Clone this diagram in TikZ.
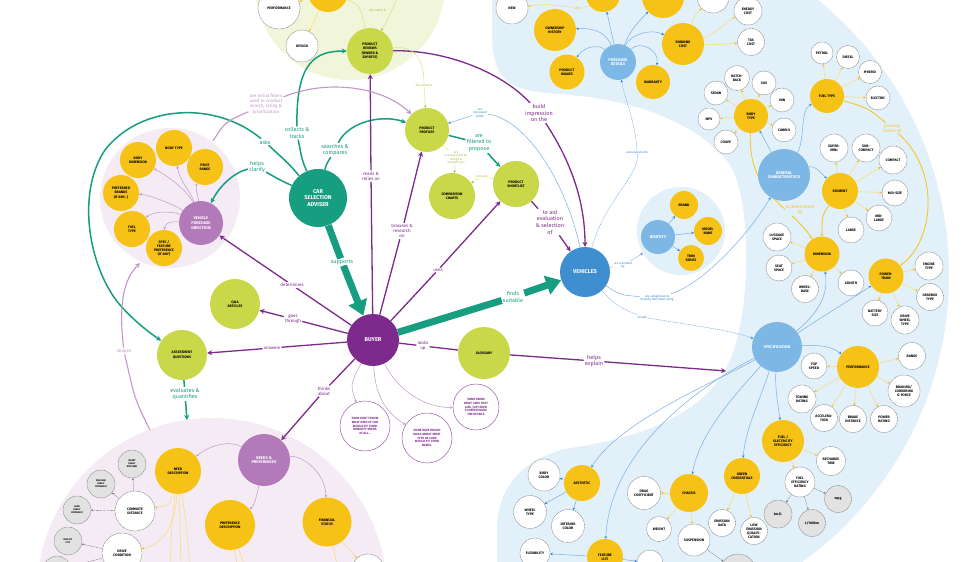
\documentclass[tikz,border=0pt]{standalone}
\usepackage{fontspec}
\setmainfont{Fira Sans}
\usetikzlibrary{arrows.meta}
\definecolor{tealc}{RGB}{23,157,127}
\definecolor{buyc}{RGB}{125,42,140}
\definecolor{limec}{RGB}{201,216,72}
\definecolor{yelc}{RGB}{246,194,22}
\definecolor{mauvec}{RGB}{178,122,185}
\definecolor{bgpur}{RGB}{244,235,245}
\definecolor{bggrn}{RGB}{241,245,217}
\definecolor{bgblu}{RGB}{226,240,250}
\definecolor{vbluec}{RGB}{62,142,208}
\definecolor{lbluec}{RGB}{125,183,230}
\definecolor{linkb}{RGB}{120,175,225}
\definecolor{arrb}{RGB}{50,130,205}
\definecolor{lpurc}{RGB}{196,150,202}
\definecolor{lyelc}{RGB}{248,222,130}
\definecolor{dgray}{RGB}{105,105,105}
\definecolor{gfill}{RGB}{226,226,226}
\definecolor{olivec}{RGB}{170,188,50}
\definecolor{llime}{RGB}{215,228,130}
\newcommand\fsNode{\fontsize{3.5}{4.1}\selectfont\bfseries}
\newcommand\fsMidN{\fontsize{4}{4.7}\selectfont\bfseries}
\newcommand\fsBigN{\fontsize{5.6}{6.6}\selectfont\bfseries}
\newcommand\fsTeal{\fontsize{5.5}{6.6}\selectfont}
\newcommand\fsPur{\fontsize{4.5}{5.3}\selectfont}
\newcommand\fsTiny{\fontsize{3}{3.5}\selectfont}
\newcommand\fsMicro{\fontsize{2.4}{2.8}\selectfont\bfseries}
\newcommand\fsBub{\fontsize{3.1}{3.8}\selectfont\bfseries}
\pgfdeclarelayer{bgl}
\pgfdeclarelayer{edg}
\pgfsetlayers{bgl,edg,main}
\tikzset{
 nd/.style={circle,inner sep=0pt,align=center,font=\fsNode},
 yn/.style={nd,fill=yelc},
 ln/.style={nd,fill=limec},
 wn/.style={nd,fill=white,draw=dgray,line width=0.35pt,dash pattern=on 0.7pt off 0.5pt},
 gn/.style={wn,fill=gfill,font=\fsMicro},
 gnb/.style={wn,fill=gfill},
 bn/.style={nd,fill=lbluec,text=white,font=\fsMidN},
 mn/.style={nd,fill=mauvec,text=white,font=\fsMidN},
 bub/.style={nd,fill=white,draw=buyc!75,line width=0.5pt,text=buyc,font=\fsBub},
 labT/.style={align=center,font=\fsTeal,text=tealc,fill=white,inner sep=1pt},
 labP/.style={align=center,font=\fsPur,text=buyc,fill=white,inner sep=1pt},
 labPB/.style={align=center,font=\fsTeal,text=buyc,fill=white,inner sep=1pt},
 labL/.style={align=center,font=\fsPur,text=lpurc,fill=white,inner sep=1pt},
 labB/.style={align=center,font=\fsTiny,text=arrb,fill=white,inner sep=0.8pt},
 labY/.style={align=center,font=\fsPur,text=yelc,fill=bgblu,inner sep=0.8pt},
 labG/.style={align=center,font=\fsTiny,text=olivec,fill=white,inner sep=0.8pt},
 tl/.style={draw=tealc,line width=1.5pt},
 thk/.style={draw=tealc,line width=7pt},
 pl/.style={draw=buyc,line width=1.3pt},
 lp/.style={draw=lpurc,line width=0.5pt},
 lpw/.style={draw=lpurc,line width=1.1pt},
 bl/.style={draw=linkb,line width=0.5pt},
 bld/.style={bl,dash pattern=on 1.2pt off 0.8pt},
 yl/.style={draw=lyelc,line width=0.6pt},
 yl2/.style={draw=yelc,line width=0.8pt},
 ylg/.style={draw=llime,line width=0.5pt},
 gl/.style={draw=dgray,line width=0.35pt,dash pattern=on 0.8pt off 0.6pt},
 tipT/.style={-{Stealth[length=5pt,width=5pt]}},
 tipBig/.style={-{Triangle[length=15pt,width=19pt]}},
 tipS/.style={-{Stealth[length=2.6pt,width=2.6pt]}},
 tipB/.style={-{Stealth[length=2.6pt,width=2.6pt,color=arrb]}},
 tipY/.style={-{Stealth[length=2.6pt,width=2.6pt,color=yelc]}},
 tipG/.style={-{Stealth[length=2pt,width=2pt,color=dgray]}},
 tipLG/.style={-{Stealth[length=2.6pt,width=2.6pt,color=olivec]}},
}
\begin{document}
\begin{tikzpicture}[x=1pt,y=-1pt]
\useasboundingbox (0,0) rectangle (980,562);
% ---------------- backgrounds
\begin{pgfonlayer}{bgl}
\begin{scope}
\clip (0,0) rectangle (980,562);
\fill[white] (0,0) rectangle (980,562);
\fill[bgblu] (595,275) circle[radius=354];
\fill[white] (492,-20) -- (492,30) .. controls (492,80) and (505,91) .. (560,94)
  .. controls (640,100) and (700,125) .. (730,165)
  .. controls (752,200) and (753,320) .. (725,370)
  .. controls (700,415) and (640,438) .. (570,448)
  .. controls (520,458) and (497,490) .. (497,530) -- (497,600) -- (-20,600) -- (-20,-20) -- cycle;
\fill[bggrn] (350,-15) circle[radius=95];
\fill[bgpur] (170,198) circle[radius=70];
\fill[bgpur] (212,593) circle[radius=175];
\node[circle,fill=bgblu,minimum size=88,inner sep=0pt] (idbg) at (681,231) {};
\end{scope}
\end{pgfonlayer}
% ---------------- main nodes
\node[nd,fill=tealc,text=white,font=\fsBigN,minimum size=58] (adv) at (318,198) {CAR\\SELECTION\\ADVISER};
\node[nd,fill=buyc,text=white,font=\fsBigN,minimum size=52] (buy) at (373,340) {BUYER};
\node[nd,fill=vbluec,text=white,font=\fsBigN,minimum size=50] (veh) at (585,272) {VEHICLES};
\node[ln,minimum size=46] (rev) at (370,51) {PRODUCT\\REVIEWS\\(OWNER \&\\EXPERTS)};
\node[ln,minimum size=44] (prof) at (427,130) {PRODUCT\\PROFILES};
\node[ln,minimum size=46] (cmp) at (452,196) {COMPARISON\\CHARTS};
\node[ln,minimum size=46] (sl) at (516,184) {PRODUCT\\SHORTLIST};
\node[ln,minimum size=50] (qa) at (235,304) {Q\&A\\ARTICLES};
\node[ln,minimum size=50] (aq) at (182,355) {ASSESSMENT\\QUESTIONS};
\node[ln,minimum size=52] (glo) at (484,353) {GLOSSARY};
% top green
\node[yn,minimum size=40] (ytop) at (328,-8) {};
\node[wn,minimum size=42] (perfa) at (279,8) {PERFORMANCE};
\node[wn,minimum size=32] (des) at (302,46) {DESIGN};
% left purple cluster
\node[yn,minimum size=36] (lbt) at (174,148) {BODY TYPE};
\node[yn,minimum size=36] (lbd) at (138,160) {BODY\\DIMENSION};
\node[yn,minimum size=36] (lpr) at (205,167) {PRICE\\RANGE};
\node[yn,minimum size=36] (lpb) at (121,193) {PREFERRED\\BRANDS\\(IF ANY...)};
\node[yn,minimum size=36] (lft) at (132,229) {FUEL\\TYPE};
\node[yn,minimum size=36] (lsp) at (164,248) {SPEC /\\FEATURE\\PREFERENCE\\(IF ANY)};
\node[mn,minimum size=44] (vpd) at (201,223) {VEHICLE\\PURCHASE\\DIRECTION};
% bubbles
\node[bub,minimum size=50] (ba) at (365,426) {SOME DON'T KNOW\\WHAT KIND OF CAR\\WOULD FIT THEIR\\MOBILITY NEEDS\\AT ALL...};
\node[bub,minimum size=50] (bb) at (427,438) {SOME HAVE ROUGH\\IDEAS ABOUT WHAT\\TYPE OF CARS\\WOULD FIT THEIR\\NEEDS.};
\node[bub,minimum size=46] (bc) at (476,407) {SOME KNOW\\WHAT CARS THEY\\LIKE, JUST NEED\\TO INVESTIGATE\\THE DETAILS};
% bottom-left cluster
\node[mn,minimum size=52] (np) at (264,460) {NEEDS \&\\PREFERENCES};
\node[yn,minimum size=46] (ndn) at (178,471) {NEED\\DESCRIPTION};
\node[yn,minimum size=50] (pdn) at (230,525) {PREFERENCE\\DESCRIPTION};
\node[yn,minimum size=49] (fsn) at (327,522) {FINANCIAL\\STATUS};
\node[wn,minimum size=40] (cdn) at (135,511) {COMMUTE\\DISTANCE};
\node[wn,minimum size=40] (dcn) at (122,553) {DRIVE\\CONDITION};
\node[gn,minimum size=28] (ga) at (132,464) {SHORT\\(DAILY\\ROUTINE)};
\node[gn,minimum size=28] (gb) at (101,484) {REGULAR\\(DAILY\\DISTANCE)};
\node[gn,minimum size=28] (gc) at (77,510) {LONG\\(DAILY\\DISTANCE)};
\node[gn,minimum size=28] (gd) at (68,541) {MOSTLY\\CITY};
\node[gn,minimum size=28] (ge) at (57,570) {};
\node[wn,minimum size=32] (fsw) at (368,570) {};
% purchase details cluster
\node[bn,minimum size=36] (pdt) at (618,62) {PURCHASE\\DETAILS};
\node[yn,minimum size=42] (own) at (555,30) {OWNERSHIP\\HISTORY};
\node[yn,minimum size=35] (img) at (567,72) {PRODUCT\\IMAGES};
\node[yn,minimum size=34] (war) at (653,82) {WARRANTY};
\node[yn,minimum size=42] (run) at (683,44) {RUNNING\\COST};
\node[yn,minimum size=34] (ytb) at (603,-5) {};
\node[yn,minimum size=42] (cond) at (663,-3) {\raisebox{-8pt}{CONDITIONS}};
\node[wn,minimum size=32] (new) at (512,8) {NEW};
\node[wn,minimum size=32] (cst) at (713,-3) {\raisebox{-8pt}{COST}};
\node[wn,minimum size=28] (ecn) at (748,11) {ENERGY\\COST};
\node[wn,minimum size=27] (tcn) at (751,42) {TAX\\COST};
% body type
\node[yn,minimum size=34] (bt) at (751,116) {BODY\\TYPE};
\node[wn,minimum size=25] (hb) at (737,78) {HATCH-\\BACK};
\node[wn,minimum size=24] (suv) at (764,83) {SUV};
\node[wn,minimum size=24] (van) at (782,100) {VAN};
\node[wn,minimum size=24] (cab) at (784,130) {CABRIO};
\node[wn,minimum size=24] (sed) at (716,93) {SEDAN};
\node[wn,minimum size=22] (mpv) at (709,119) {MPV};
\node[wn,minimum size=24] (cou) at (726,142) {COUPE};
% fuel type
\node[yn,minimum size=34] (ft) at (827,96) {FUEL TYPE};
\node[wn,minimum size=22] (pet) at (822,53) {PETROL};
\node[wn,minimum size=23] (die) at (848,57) {DIESEL};
\node[wn,minimum size=23] (hyb) at (870,72) {HYBRID};
\node[wn,minimum size=24] (ele) at (878,98) {ELECTRIC};
% general characteristics
\node[bn,minimum size=52] (gch) at (784,175) {GENERAL\\CHARACTERISTICS};
\node[yn,minimum size=36] (seg) at (840,191) {SEGMENT};
\node[wn,minimum size=28] (smi) at (834,148) {SUPER-\\MINI};
\node[wn,minimum size=28] (sco) at (866,148) {SUB-\\COMPACT};
\node[wn,minimum size=28] (cpt) at (893,160) {COMPACT};
\node[wn,minimum size=26] (mids) at (895,193) {MID-SIZE};
\node[wn,minimum size=26] (midl) at (879,218) {MID-\\LARGE};
\node[wn,minimum size=26] (lrg) at (851,230) {LARGE};
\node[yn,minimum size=35] (dim) at (822,254) {DIMENSION};
\node[wn,minimum size=28] (lug) at (777,237) {LUGGAGE\\SPACE};
\node[wn,minimum size=26] (sea) at (779,268) {SEAT\\SPACE};
\node[wn,minimum size=27] (wbs) at (805,289) {WHEEL-\\BASE};
\node[wn,minimum size=26] (len) at (851,283) {LENGTH};
\node[yn,minimum size=35] (ptr) at (886,276) {POWER-\\TRAIN};
\node[wn,minimum size=28] (eng) at (929,266) {ENGINE\\TYPE};
\node[wn,minimum size=27] (gear) at (930,297) {GEARBOX\\TYPE};
\node[wn,minimum size=26] (bat) at (875,313) {BATTERY\\SIZE};
\node[wn,minimum size=28] (dwt) at (905,320) {DRIVE\\WHEEL\\TYPE};
% specification
\node[bn,minimum size=50] (spec) at (777,347) {SPECIFICATION};
\node[yn,minimum size=42] (perf) at (858,367) {PERFORMANCE};
\node[wn,minimum size=26] (tsp) at (814,366) {TOP\\SPEED};
\node[wn,minimum size=27] (rng) at (912,356) {RANGE};
\node[wn,minimum size=32] (brk) at (904,391) {BRAKING/\\CORNERING\\G-FORCE};
\node[wn,minimum size=28] (tow) at (802,399) {TOWING\\RATING};
\node[wn,minimum size=27] (acc) at (824,418) {ACCELERA-\\TION};
\node[wn,minimum size=27] (bdi) at (853,419) {BRAKE\\DISTANCE};
\node[wn,minimum size=27] (prt) at (884,419) {POWER\\RATING};
\node[yn,minimum size=42] (fee) at (783,441) {FUEL /\\ELECTRICITY\\EFFICIENCY};
\node[wn,minimum size=29] (rct) at (831,461) {RECHARGE\\TIME};
\node[wn,minimum size=30] (fer) at (800,482) {FUEL\\EFFICIENCY\\RATING};
\node[gnb,minimum size=27] (mpg) at (838,499) {mpg};
\node[gnb,minimum size=28] (kml) at (778,514) {km/L};
\node[gnb,minimum size=27] (lhk) at (812,523) {L/100km};
\node[yn,minimum size=36] (gcr) at (742,476) {GREEN\\CREDENTIALS};
\node[wn,minimum size=27] (leq) at (754,531) {LOW\\EMISSION\\QUALIFI-\\CATION};
\node[wn,minimum size=27] (emd) at (722,523) {EMISSION\\DATA};
\node[gnb,minimum size=36] (gbx) at (738,572) {};
\node[yn,minimum size=38] (chs) at (689,493) {CHASSIS};
\node[wn,minimum size=33] (drg) at (644,493) {DRAG\\COEFFICIENT};
\node[wn,minimum size=25] (wgt) at (659,529) {WEIGHT};
\node[wn,minimum size=32] (sus) at (694,540) {SUSPENSION};
\node[yn,minimum size=36] (aes) at (582,483) {AESTHETIC};
\node[wn,minimum size=32] (bcol) at (544,475) {BODY\\COLOR};
\node[wn,minimum size=33] (wty) at (530,512) {WHEEL\\TYPE};
\node[wn,minimum size=33] (icol) at (568,526) {INTERIOR\\COLOR};
\node[wn,minimum size=30] (flex) at (535,553) {FLEXIBILITY};
\node[yn,minimum size=36] (fli) at (605,557) {FEATURE\\LIST};
\node[wn,minimum size=26] (saf) at (650,563) {};
% identity
\node[bn,minimum size=34] (idn) at (658,237) {IDENTITY};
\node[yn,minimum size=28] (brd) at (684,205) {BRAND};
\node[yn,minimum size=28] (mdl) at (708,231) {MODEL\\NAME};
\node[yn,minimum size=26] (trm) at (691,258) {TRIM\\SERIES};
% ---------------- labels
\node[labT] (lAsks) at (265,142) {asks};
\node[labT] (lClar) at (257,167) {helps\\clarify};
\node[labT] (lColl) at (297,133) {collects \&\\tracks};
\node[labT] (lSrch) at (335,150) {searches \&\\compares};
\node[labT] (lSup) at (342,262) {supports};
\node[labT] (lFind) at (513,297) {finds\\suitable};
\node[labT] (lFilt) at (479,143) {are\\filtered to\\propose};
\node[labT] (lEval) at (185,394) {evaluates \&\\quantifies};
\node[labP] (lRead) at (371,176) {reads \&\\relies on};
\node[labP] (lBrow) at (402,231) {browses \&\\research\\on};
\node[labP] (lUses) at (438,270) {uses};
\node[labP] (lDet) at (292,285) {determines};
\node[labP] (lGoes) at (293,319) {goes\\through};
\node[labP] (lAns) at (272,348) {answers};
\node[labP] (lLook) at (423,346) {looks\\up};
\node[labP] (lThnk) at (324,391) {thinks\\about};
\node[labPB] (lBuild) at (539,113) {build\\impression\\on the};
\node[labPB] (lAid) at (550,222) {to aid\\evaluation\\\& selection\\of};
\node[labPB] (lExp) at (594,361) {helps\\explain};
\node[labL] (lFilters) at (266,104) {are initial filters\\used to conduct\\search, rating \&\\prioritization};
\node[labL] (lShp) at (124,351) {shapes};
\node[labB] (lAssoc) at (637,152) {associated with};
\node[labB] (lClass) at (623,265) {are classified\\by};
\node[labB] (lCat) at (657,298) {are categorised \&\\broadly described using};
\node[labB] (lInc) at (642,317) {include};
\node[labB] (lDisc) at (480,113) {are\\discussed\\within};
\node[labY] (lDetb) at (800,210) {is determined\\by};
\node[labY] (lPrim) at (892,128) {primary\\choice of};
\node[labY,font=\fsTiny] (lOff) at (578,8) {offers};
\node[labG,fill=bggrn] (lDisca) at (378,10) {discussed in};
\node[labG] (lDiscb) at (424,85) {discussed in};
\node[labG] (lAcc) at (456,158) {are\\accompanied by\\ratings \&\\comparisons};
\node[labG] (lIncl) at (482,176) {includes};
\coordinate (ndTop) at (187,420);
\coordinate (expEnd) at (726,371);
\coordinate (filtStart) at (213,141);
\coordinate (shpStart) at (150,430);
\coordinate (shpEnd) at (140,263);
\coordinate (topR) at (398,-5);
% ---------------- edges
\begin{pgfonlayer}{edg}
% teal
\draw[tl] (adv) .. controls (302,160) .. (lColl);
\draw[tl,tipT] (lColl) .. controls (296,62) and (315,51) .. (rev);
\draw[tl] (adv) .. controls (326,165) .. (lSrch);
\draw[tl,tipT] (lSrch) .. controls (348,122) and (382,114) .. (prof);
\draw[tl] (adv) .. controls (290,165) .. (lAsks);
\draw[tl,tipT] (lAsks) .. controls (215,100) and (140,105) .. (105,150)
   .. controls (75,195) and (90,270) .. (120,305) .. controls (135,322) and (150,333) .. (aq);
\draw[tl] (adv) .. controls (280,180) .. (lClar);
\draw[tl,tipT] (lClar) .. controls (235,172) and (220,185) .. (vpd);
\draw[thk] (adv) -- (lSup);
\draw[thk,tipBig] (lSup) -- (buy);
\draw[thk] (buy) -- (lFind);
\draw[thk,tipBig] (lFind) -- (veh);
\draw[tl] (prof) -- (lFilt);
\draw[tl,tipT] (lFilt) .. controls (492,158) .. (sl);
\draw[tl] (aq) -- (lEval);
\draw[tl,tipT] (lEval) -- (ndTop);
% purple
\draw[pl] (buy) -- (lRead);  \draw[pl,tipT] (lRead) -- (rev);
\draw[pl] (buy) -- (lBrow);  \draw[pl,tipT] (lBrow) -- (prof);
\draw[pl] (buy) -- (lUses);  \draw[pl,tipT] (lUses) -- (sl);
\draw[pl] (buy) -- (lDet);   \draw[pl,tipT] (lDet) -- (vpd);
\draw[pl] (buy) -- (lGoes);  \draw[pl,tipT] (lGoes) -- (qa);
\draw[pl] (buy) -- (lAns);   \draw[pl,tipT] (lAns) -- (aq);
\draw[pl] (buy) -- (lLook);  \draw[pl] (lLook) -- (glo);
\draw[pl] (buy) -- (lThnk);  \draw[pl,tipT] (lThnk) -- (np);
\draw[pl] (glo) -- (lExp);   \draw[pl,tipT] (lExp) -- (expEnd);
\draw[pl] (rev) .. controls (450,50) and (505,75) .. (lBuild);
\draw[pl,tipT] (lBuild) .. controls (570,160) and (585,200) .. (veh);
\draw[pl] (sl) -- (lAid);    \draw[pl,tipT] (lAid) -- (veh);
% light purple
\draw[lp,tipS] (buy) .. controls (350,385) .. (ba);
\draw[lp,tipS] (buy) .. controls (375,400) and (390,415) .. (bb);
\draw[lp,tipS] (buy) .. controls (400,395) and (430,408) .. (bc);
\draw[lp,tipS] (vpd) .. controls (190,195) and (175,180) .. (lbd);
\draw[lp,tipS] (vpd) .. controls (190,190) and (180,182) .. (lbt);
\draw[lp,tipS] (vpd) .. controls (198,195) and (195,188) .. (lpr);
\draw[lp,tipS] (vpd) .. controls (175,205) and (150,195) .. (lpb);
\draw[lp,tipS] (vpd) .. controls (175,212) and (155,210) .. (lft);
\draw[lp,tipS] (vpd) .. controls (178,222) and (165,220) .. (lsp);
\draw[lpw] (filtStart) .. controls (225,122) .. (lFilters);
\draw[lpw,tipT] (lFilters) .. controls (330,78) and (385,88) .. (prof);
\draw[lpw] (shpStart) .. controls (135,400) .. (lShp);
\draw[lpw,tipT] (lShp) .. controls (118,300) and (125,278) .. (shpEnd);
\draw[lp,tipS] (np) .. controls (230,440) and (210,445) .. (ndn);
\draw[lp,tipS] (np) .. controls (258,490) and (255,505) .. (pdn);
\draw[lp,tipS] (np) .. controls (300,455) and (325,470) .. (fsn);
% bottom-left yellow / gray
\draw[yl,tipY] (ndn) .. controls (170,505) .. (cdn);
\draw[yl,tipY] (ndn) .. controls (175,530) and (160,545) .. (dcn);
\draw[yl] (ndn) .. controls (172,520) .. (170,570);
\draw[yl] (ndn) .. controls (180,520) .. (181,570);
\draw[yl] (ndn) .. controls (186,520) .. (190,570);
\draw[yl] (pdn) -- (238,570);
\draw[yl] (pdn) -- (246,570);
\draw[yl,tipY] (fsn) .. controls (345,545) .. (fsw);
\draw[yl] (fsn) .. controls (335,555) .. (338,570);
\draw[gl,tipG] (cdn) -- (ga);
\draw[gl,tipG] (cdn) -- (gb);
\draw[gl,tipG] (cdn) -- (gc);
\draw[gl,tipG] (dcn) -- (gd);
\draw[gl,tipG] (dcn) -- (ge);
% top green region
\draw[yl,tipY] (ytop) -- (perfa);
\draw[yl,tipY] (ytop) -- (des);
\draw[ylg] (ytop) .. controls (360,5) .. (rev);
\draw[ylg,tipLG] (topR) .. controls (390,15) .. (rev);
\draw[ylg] (rev) .. controls (415,45) and (424,60) .. (lDiscb);
\draw[ylg,tipLG] (lDiscb) -- (prof);
\draw[ylg] (prof) -- (lAcc);
\draw[ylg,tipLG] (lAcc) -- (cmp);
\draw[ylg] (sl) -- (lIncl);
\draw[ylg,tipLG] (lIncl) -- (cmp);
% blue links from vehicles
\draw[bl] (veh) .. controls (568,190) and (530,120) .. (lDisc);
\draw[bl,tipB] (lDisc) -- (prof);
\draw[bld] (veh) .. controls (605,200) and (640,175) .. (lAssoc);
\draw[bld,tipB] (lAssoc) .. controls (635,120) and (625,100) .. (pdt);
\draw[bld] (veh) -- (lClass);
\draw[bld,tipB] (lClass) -- (idbg);
\draw[bl] (veh) .. controls (620,295) .. (lCat);
\draw[bl,tipB] (lCat) .. controls (700,285) and (745,240) .. (gch);
\draw[bld] (veh) .. controls (615,305) .. (lInc);
\draw[bld,tipB] (lInc) .. controls (690,325) and (730,330) .. (spec);
% identity
\draw[bl,tipB] (idn) -- (brd);
\draw[bl,tipB] (idn) -- (mdl);
\draw[bl,tipB] (idn) -- (trm);
% purchase details
\draw[bl,tipB] (pdt) .. controls (605,30) and (590,28) .. (own);
\draw[bl,tipB] (pdt) .. controls (600,45) and (585,45) .. (img);
\draw[bl,tipB] (pdt) .. controls (640,40) and (660,50) .. (war);
\draw[bl,tipB] (pdt) .. controls (630,35) and (650,28) .. (run);
\draw[bl,tipB] (pdt) .. controls (612,35) .. (ytb);
\draw[bl,tipB] (pdt) .. controls (630,30) and (640,20) .. (cond);
\draw[yl] (ytb) .. controls (592,6) .. (lOff);
\draw[yl,tipY] (lOff) .. controls (545,4) .. (new);
\draw[yl,tipY] (run) .. controls (715,35) and (725,22) .. (ecn);
\draw[yl,tipY] (run) .. controls (715,45) .. (tcn);
\draw[yl,tipY] (run) .. controls (695,15) .. (cst);
% general characteristics
\draw[bl,tipB] (gch) .. controls (770,150) and (765,140) .. (bt);
\draw[bl,tipB] (gch) .. controls (805,140) and (800,110) .. (ft);
\draw[bl,tipB] (gch) .. controls (815,165) and (820,172) .. (seg);
\foreach \c in {hb,suv,van,cab,sed,mpv,cou} \draw[yl,tipY] (bt) -- (\c);
\foreach \c in {pet,die,hyb,ele} \draw[yl,tipY] (ft) -- (\c);
\foreach \c in {smi,sco,cpt,mids,midl,lrg} \draw[yl,tipY] (seg) -- (\c);
\foreach \c in {lug,sea,wbs,len} \draw[yl,tipY] (dim) -- (\c);
\foreach \c in {eng,gear,bat,dwt} \draw[yl,tipY] (ptr) -- (\c);
\draw[yl2,tipY] (bt) .. controls (748,195) and (790,205) .. (dim);
\draw[yl2,tipY] (seg) .. controls (822,215) .. (dim);
\draw[yl2] (ft) .. controls (868,108) .. (lPrim);
\draw[yl2,tipY] (lPrim) .. controls (940,170) and (935,240) .. (ptr);
% specification
\draw[bl,tipB] (spec) .. controls (810,320) and (830,300) .. (dim);
\draw[bl,tipB] (spec) .. controls (820,318) and (850,300) .. (ptr);
\draw[bl,tipB] (spec) .. controls (815,345) and (830,345) .. (perf);
\draw[bl,tipB] (spec) .. controls (775,390) and (778,405) .. (fee);
\draw[bl,tipB] (spec) .. controls (760,400) and (745,430) .. (gcr);
\draw[bl,tipB] (spec) .. controls (740,390) and (700,430) .. (chs);
\draw[bl,tipB] (spec) .. controls (720,380) and (620,420) .. (aes);
\draw[bl,tipB] (spec) .. controls (720,375) and (610,440) .. (fli);
\foreach \c in {tsp,rng,brk,tow,acc,bdi,prt} \draw[yl,tipY] (perf) -- (\c);
\draw[yl,tipY] (fee) -- (rct);
\draw[yl,tipY] (fee) -- (fer);
\foreach \c in {mpg,kml,lhk} \draw[gl,tipG] (fer) -- (\c);
\draw[yl,tipY] (gcr) -- (leq);
\draw[yl,tipY] (gcr) -- (emd);
\foreach \c in {drg,wgt,sus} \draw[yl,tipY] (chs) -- (\c);
\draw[gl,tipG] (sus) -- (gbx);
\foreach \c in {bcol,wty,icol} \draw[bl,tipB] (aes) -- (\c);
\draw[bl,tipB] (fli) -- (flex);
\draw[bl,tipB] (fli) -- (saf);
\end{pgfonlayer}
\end{tikzpicture}
\end{document}
